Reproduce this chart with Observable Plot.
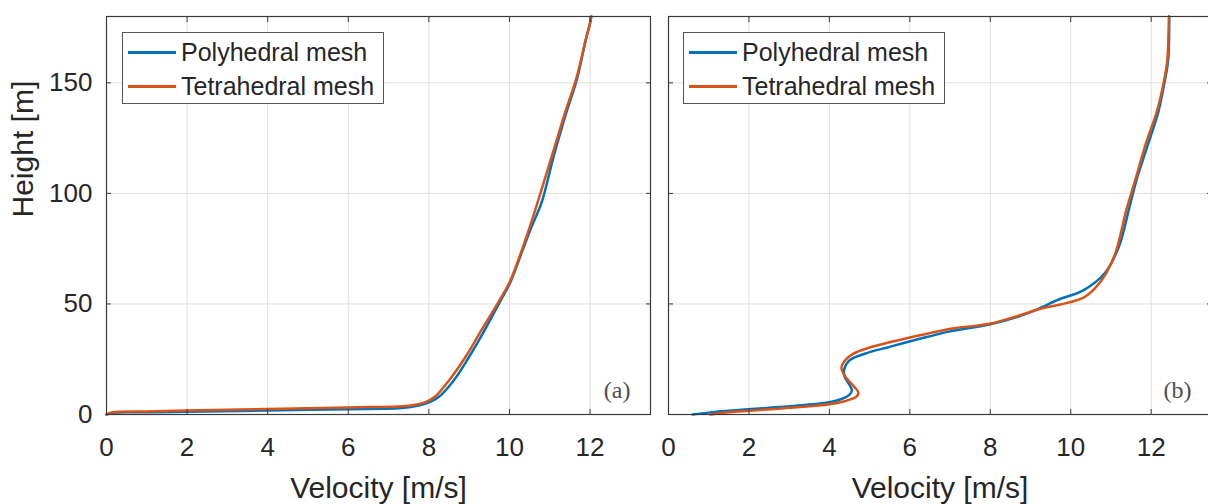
<!DOCTYPE html>
<html>
<head>
<meta charset="utf-8">
<script src="https://cdn.jsdelivr.net/npm/d3@7"></script>
<script src="https://cdn.jsdelivr.net/npm/@observablehq/plot@0.6"></script>
<style>
html, body { margin: 0; padding: 0; background: #fff; overflow: hidden; }
#row { display: flex; width: 1208px; height: 504px; }
.panel { position: relative; overflow: hidden; height: 504px; flex: none; }
.panel svg { max-width: none !important; }
.legend { position: absolute; top: 32px; width: 262px; height: 72px; box-sizing: border-box;
  border: 1.5px solid #555; background: #fff;
  font-family: "Liberation Sans", Arial, sans-serif; font-size: 25px; color: #262626; }
.legend .item { position: absolute; left: 0; height: 26px; line-height: 26px; white-space: nowrap; }
.legend .swatch { position: absolute; left: 5px; top: 12px; width: 48px; height: 2.5px; }
.legend .lbl { position: absolute; left: 58px; top: 0; }
</style>
</head>
<body>
<div id="row"></div>
<script>
// ---- data ----
const seriesNames = ["Polyhedral mesh", "Tetrahedral mesh"];
const seriesColors = ["#0072BD", "#D95319"];
const xTicks = [0, 2, 4, 6, 8, 10, 12];
const yTicks = [0, 50, 100, 150];
const xLabel = "Velocity [m/s]";
const yLabel = "Height [m]";
const panelLabels = ["(a)", "(b)"];

// Panel (a)
const polyA_v = [0, 0.15, 1, 2, 4, 6, 7.4, 7.9, 8.25, 8.6, 8.98, 9.35, 9.78, 10.02, 10.32, 10.55, 10.8, 11.1, 11.43, 11.68, 11.9, 12.0, 12.03];
const polyA_h = [0, 0.8, 1.0, 1.3, 1.8, 2.4, 3.0, 4.8, 8, 15, 25.5, 37, 51.5, 59.7, 74, 85, 96, 117, 137.6, 152, 170, 177, 180];
const tetraA_v = [0, 0.15, 1, 2, 4, 6, 7.5, 7.9, 8.15, 8.5, 8.9, 9.3, 9.75, 10.0, 10.3, 10.5, 10.7, 11.07, 11.4, 11.66, 11.9, 12.0, 12.03];
const tetraA_h = [0, 1.0, 1.4, 1.8, 2.5, 3.2, 4.0, 5.5, 8, 15.4, 25.8, 38, 51.6, 59.7, 74, 84.6, 96, 118, 137.6, 152, 170, 177, 180];

// Panel (b)
const polyB_v = [0.6, 1.2, 2, 3, 4, 4.3, 4.5, 4.56, 4.48, 4.38, 4.37, 4.5, 4.9, 5.5, 6.2, 7, 8, 8.7, 9.2, 9.7, 10.3, 10.85, 11.2, 11.45, 11.65, 11.9, 12.18, 12.33, 12.42, 12.45];
const polyB_h = [0, 1.3, 2.4, 3.7, 5.5, 7, 9, 11, 14, 17, 20.5, 24.5, 27.6, 30.6, 34, 37.6, 40.8, 44.3, 47.8, 52, 56, 64, 76, 93, 107, 121, 137, 150, 160, 180];
const tetraB_v = [1.04, 1.5, 2, 3, 4, 4.45, 4.68, 4.72, 4.62, 4.42, 4.3, 4.35, 4.6, 5.0, 6.0, 7.07, 7.98, 8.72, 9.2, 10.28, 10.6, 10.88, 11.13, 11.38, 11.62, 11.87, 12.15, 12.32, 12.4, 12.44];
const tetraB_h = [0, 1.0, 1.7, 3.0, 4.6, 6.4, 8.2, 10, 12.5, 16.5, 20.8, 23.5, 27.5, 30.3, 34.8, 38.9, 41, 44.8, 47.6, 52.5, 57, 63.8, 74, 92.3, 107, 122.6, 137.6, 151, 160, 180];

const xDomain = [0, 13.5];
const yDomain = [0, 180];

function table(v, h, s) { return v.map((d, i) => ({v: d, h: h[i], s})); }

const FONT = "'Liberation Sans', Arial, Helvetica, sans-serif";

function makePanel({data, label, width, marginLeft, marginRight, showY, panelWidth, legendLeft}) {
  const marks = [
    Plot.gridX(xTicks, {stroke: "#dfdfdf", strokeOpacity: 1}),
    Plot.gridY(yTicks, {stroke: "#dfdfdf", strokeOpacity: 1}),
    ...data.map((d, i) => Plot.line(d, {x: "v", y: "h", stroke: seriesColors[i], strokeWidth: 2.5, curve: "catmull-rom"})),
    Plot.frame({stroke: "#3a3a3a", strokeWidth: 1.2}),
    Plot.axisX(xTicks, {anchor: "bottom", tickSize: -5, tickPadding: 28, fontSize: 26, stroke: "#3a3a3a", fill: "#262626", label: null}),
    Plot.axisX(xTicks, {anchor: "top", tickSize: -5, stroke: "#3a3a3a", fill: "none", label: null}),
    showY
      ? Plot.axisY(yTicks, {anchor: "left", tickSize: -5, tickPadding: 19, fontSize: 26, stroke: "#3a3a3a", fill: "#262626", label: null})
      : Plot.axisY(yTicks, {anchor: "left", tickSize: -5, stroke: "#3a3a3a", fill: "none", label: null}),
    Plot.axisY(yTicks, {anchor: "right", tickSize: -5, stroke: "#3a3a3a", fill: "none", label: null}),
    Plot.text([xLabel], {frameAnchor: "bottom", lineAnchor: "middle", dy: 74, fontSize: 30, fill: "#262626"}),
    Plot.text([label], {frameAnchor: "bottom-right", textAnchor: "end", lineAnchor: "middle", dx: -20, dy: -24,
      fontSize: 24, fontFamily: "'Liberation Serif', 'DejaVu Serif', serif", fill: "#4d4d4d"})
  ];
  if (showY) {
    marks.push(Plot.text([yLabel], {frameAnchor: "left", rotate: -90, lineAnchor: "middle", dx: -83, dy: 2, fontSize: 30, fill: "#262626"}));
  }
  const svg = Plot.plot({
    width, height: 504,
    marginLeft, marginRight, marginTop: 16, marginBottom: 90,
    x: {domain: xDomain},
    y: {domain: yDomain},
    style: {fontFamily: FONT, fontSize: "26px", color: "#262626", background: "white", overflow: "visible", maxWidth: "none"},
    marks
  });
  svg.style.maxWidth = "none";
  const div = document.createElement("div");
  div.className = "panel";
  div.style.width = panelWidth + "px";
  div.appendChild(svg);
  // legend
  const lg = document.createElement("div");
  lg.className = "legend";
  lg.style.left = legendLeft + "px";
  seriesNames.forEach((name, i) => {
    const it = document.createElement("div");
    it.className = "item";
    it.style.top = (i === 0 ? 6 : 40) + "px";
    const sw = document.createElement("span");
    sw.className = "swatch";
    sw.style.background = seriesColors[i];
    const tx = document.createElement("span");
    tx.className = "lbl";
    tx.textContent = name;
    it.appendChild(sw); it.appendChild(tx);
    lg.appendChild(it);
  });
  div.appendChild(lg);
  return div;
}

const row = document.getElementById("row");
row.appendChild(makePanel({
  data: [table(polyA_v, polyA_h, seriesNames[0]), table(tetraA_v, tetraA_h, seriesNames[1])],
  label: panelLabels[0], width: 659, marginLeft: 106, marginRight: 9, showY: true, panelWidth: 659, legendLeft: 122
}));
row.appendChild(makePanel({
  data: [table(polyB_v, polyB_h, seriesNames[0]), table(tetraB_v, tetraB_h, seriesNames[1])],
  label: panelLabels[1], width: 556, marginLeft: 9, marginRight: 4, showY: false, panelWidth: 549, legendLeft: 24
}));
</script>
</body>
</html>
